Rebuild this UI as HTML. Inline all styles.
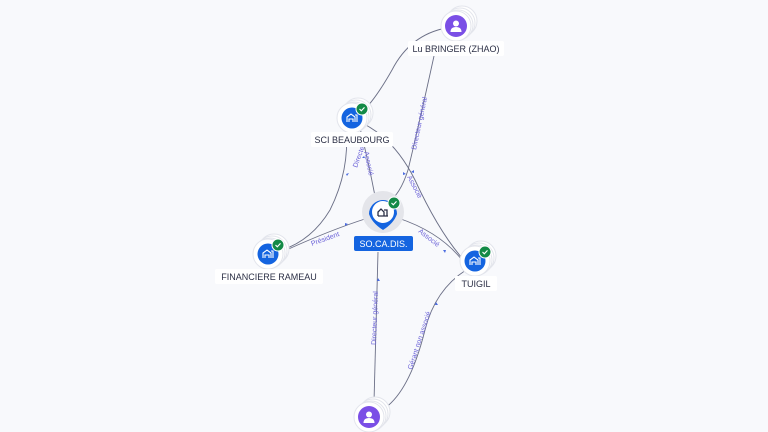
<!DOCTYPE html>
<html><head><meta charset="utf-8"><style>
html,body{margin:0;padding:0;background:#f8f9fc;}
svg{display:block;font-family:"Liberation Sans",sans-serif;}
.e{fill:none;stroke:#6b6f86;stroke-width:0.9;}
.l{fill:#6c63d8;font-size:7px;}
.nl{fill:#2b2f45;font-size:9px;}
</style></head><body>
<svg width="768" height="432" viewBox="0 0 768 432" xmlns="http://www.w3.org/2000/svg">
<rect width="768" height="432" fill="#f8f9fc"/>
<defs>
<g id="stack">
<circle cx="6" cy="-5" r="15" fill="#fff" stroke="#e3e5ec"/>
<circle cx="4" cy="-3" r="15" fill="#fff" stroke="#e3e5ec"/>
<circle cx="2" cy="-1" r="15" fill="#fff" stroke="#e3e5ec"/>
<circle cx="0" cy="0" r="15" fill="#fff" stroke="#e3e5ec"/>
</g>
<g id="co">
<use href="#stack"/>
<circle r="10.5" fill="#1464e0"/>
<path d="M-5 4 V-1 L-1 -4 L3 -1 V4 M1 4 V1 H-3 V4 M3 -3 H5 V4" fill="none" stroke="#fff" stroke-width="1.1"/>
<circle cx="10" cy="-9" r="6" fill="#138a46" stroke="#fff" stroke-width="1"/>
<path d="M7.5 -9 L9.3 -7.2 L12.5 -10.6" fill="none" stroke="#fff" stroke-width="1.1"/>
</g>
<g id="pe">
<use href="#stack"/>
<circle r="11" fill="#7b4fe6"/>
<circle cy="-2.5" r="3" fill="#fff"/>
<path d="M-5.5 6 Q-5.5 1 0 1 Q5.5 1 5.5 6 Z" fill="#fff"/>
</g>
</defs>

<!-- edges -->
<path class="e" d="M446 28 Q410 35 392 70 Q375 100 362 112"/>
<path class="e" d="M434 56 Q420 120 408 170 Q400 195 388 202"/>
<path class="e" d="M346 128 Q350 170 330 210 Q312 240 282 250"/>
<path class="e" d="M360 128 Q368 160 375 196"/>
<path class="e" d="M364 124 Q395 140 415 180 Q438 230 462 258"/>
<path class="e" d="M282 252 Q330 230 368 218"/>
<path class="e" d="M398 218 Q440 232 462 260"/>
<path class="e" d="M378 252 L374 402"/>
<path class="e" d="M466 270 Q435 290 425 330 Q410 390 385 408"/>

<!-- arrows -->
<g fill="#4a6be0">
<path d="M346 174 l3 -1 l-2 3z"/>
<path d="M364 156 l-2 2 l3 0z"/>
<path d="M411 172 l3 -2 l0 3z"/>
<path d="M403 172 l3 2 l-3 1z"/>
<path d="M345 223 l3 1 l-3 2z"/>
<path d="M443 250 l3 0 l-1 3z"/>
<path d="M378 278 l2 3 l-3 0z"/>
<path d="M436 302 l2 3 l-3 0z"/>
</g>

<!-- edge labels -->
<text class="l" transform="translate(357 168) rotate(-70)">Directeur</text>
<text class="l" transform="translate(364 152) rotate(78)">Associé</text>
<text class="l" transform="translate(416 150) rotate(-78)">Directeur général</text>
<text class="l" transform="translate(407 177) rotate(62)">Associé</text>
<text class="l" transform="translate(312 246) rotate(-20)">Président</text>
<text class="l" transform="translate(418 232) rotate(38)">Associé</text>
<text class="l" transform="translate(376 345) rotate(-88)">Directeur général</text>
<text class="l" transform="translate(412 370) rotate(-72)">Gérant non associé</text>

<!-- nodes -->
<use href="#pe" x="456" y="26"/>
<rect x="408" y="41" width="96" height="15" rx="2" fill="#fff"/>
<text class="nl" x="456" y="52" text-anchor="middle">Lu BRINGER (ZHAO)</text>

<use href="#co" x="352" y="118"/>
<rect x="311" y="132" width="82" height="15" rx="2" fill="#fff"/>
<text class="nl" x="352" y="143" text-anchor="middle">SCI BEAUBOURG</text>

<use href="#co" x="268" y="254"/>
<rect x="215" y="269" width="108" height="15" rx="2" fill="#fff"/>
<text class="nl" x="269" y="280" text-anchor="middle">FINANCIERE RAMEAU</text>

<use href="#co" x="475" y="261"/>
<rect x="455" y="276" width="42" height="15" rx="2" fill="#fff"/>
<text class="nl" x="476" y="287" text-anchor="middle">TUIGIL</text>

<use href="#pe" x="369" y="417"/>

<!-- central -->
<circle cx="383" cy="212" r="21" fill="#e4e5ea"/>
<path d="M369 214 A14 14 0 1 1 397 214 Q394 223 383 230 Q372 223 369 214Z" fill="#1464e0"/>
<circle cx="383" cy="212" r="11" fill="#fff"/>
<path d="M378 216 V212 L381 209 L384 212 V216 M384 210 H387 V216 M378 216 H388" fill="none" stroke="#2b2f45" stroke-width="1.3"/>
<circle cx="394" cy="203" r="6" fill="#138a46" stroke="#fff"/>
<path d="M391.5 203 L393.3 204.8 L396.5 201.4" fill="none" stroke="#fff" stroke-width="1.1"/>
<rect x="354" y="236" width="59" height="15" rx="2" fill="#1464e0"/>
<text x="383.5" y="247" text-anchor="middle" fill="#fff" font-size="9">SO.CA.DIS.</text>
</svg>
</body></html>
